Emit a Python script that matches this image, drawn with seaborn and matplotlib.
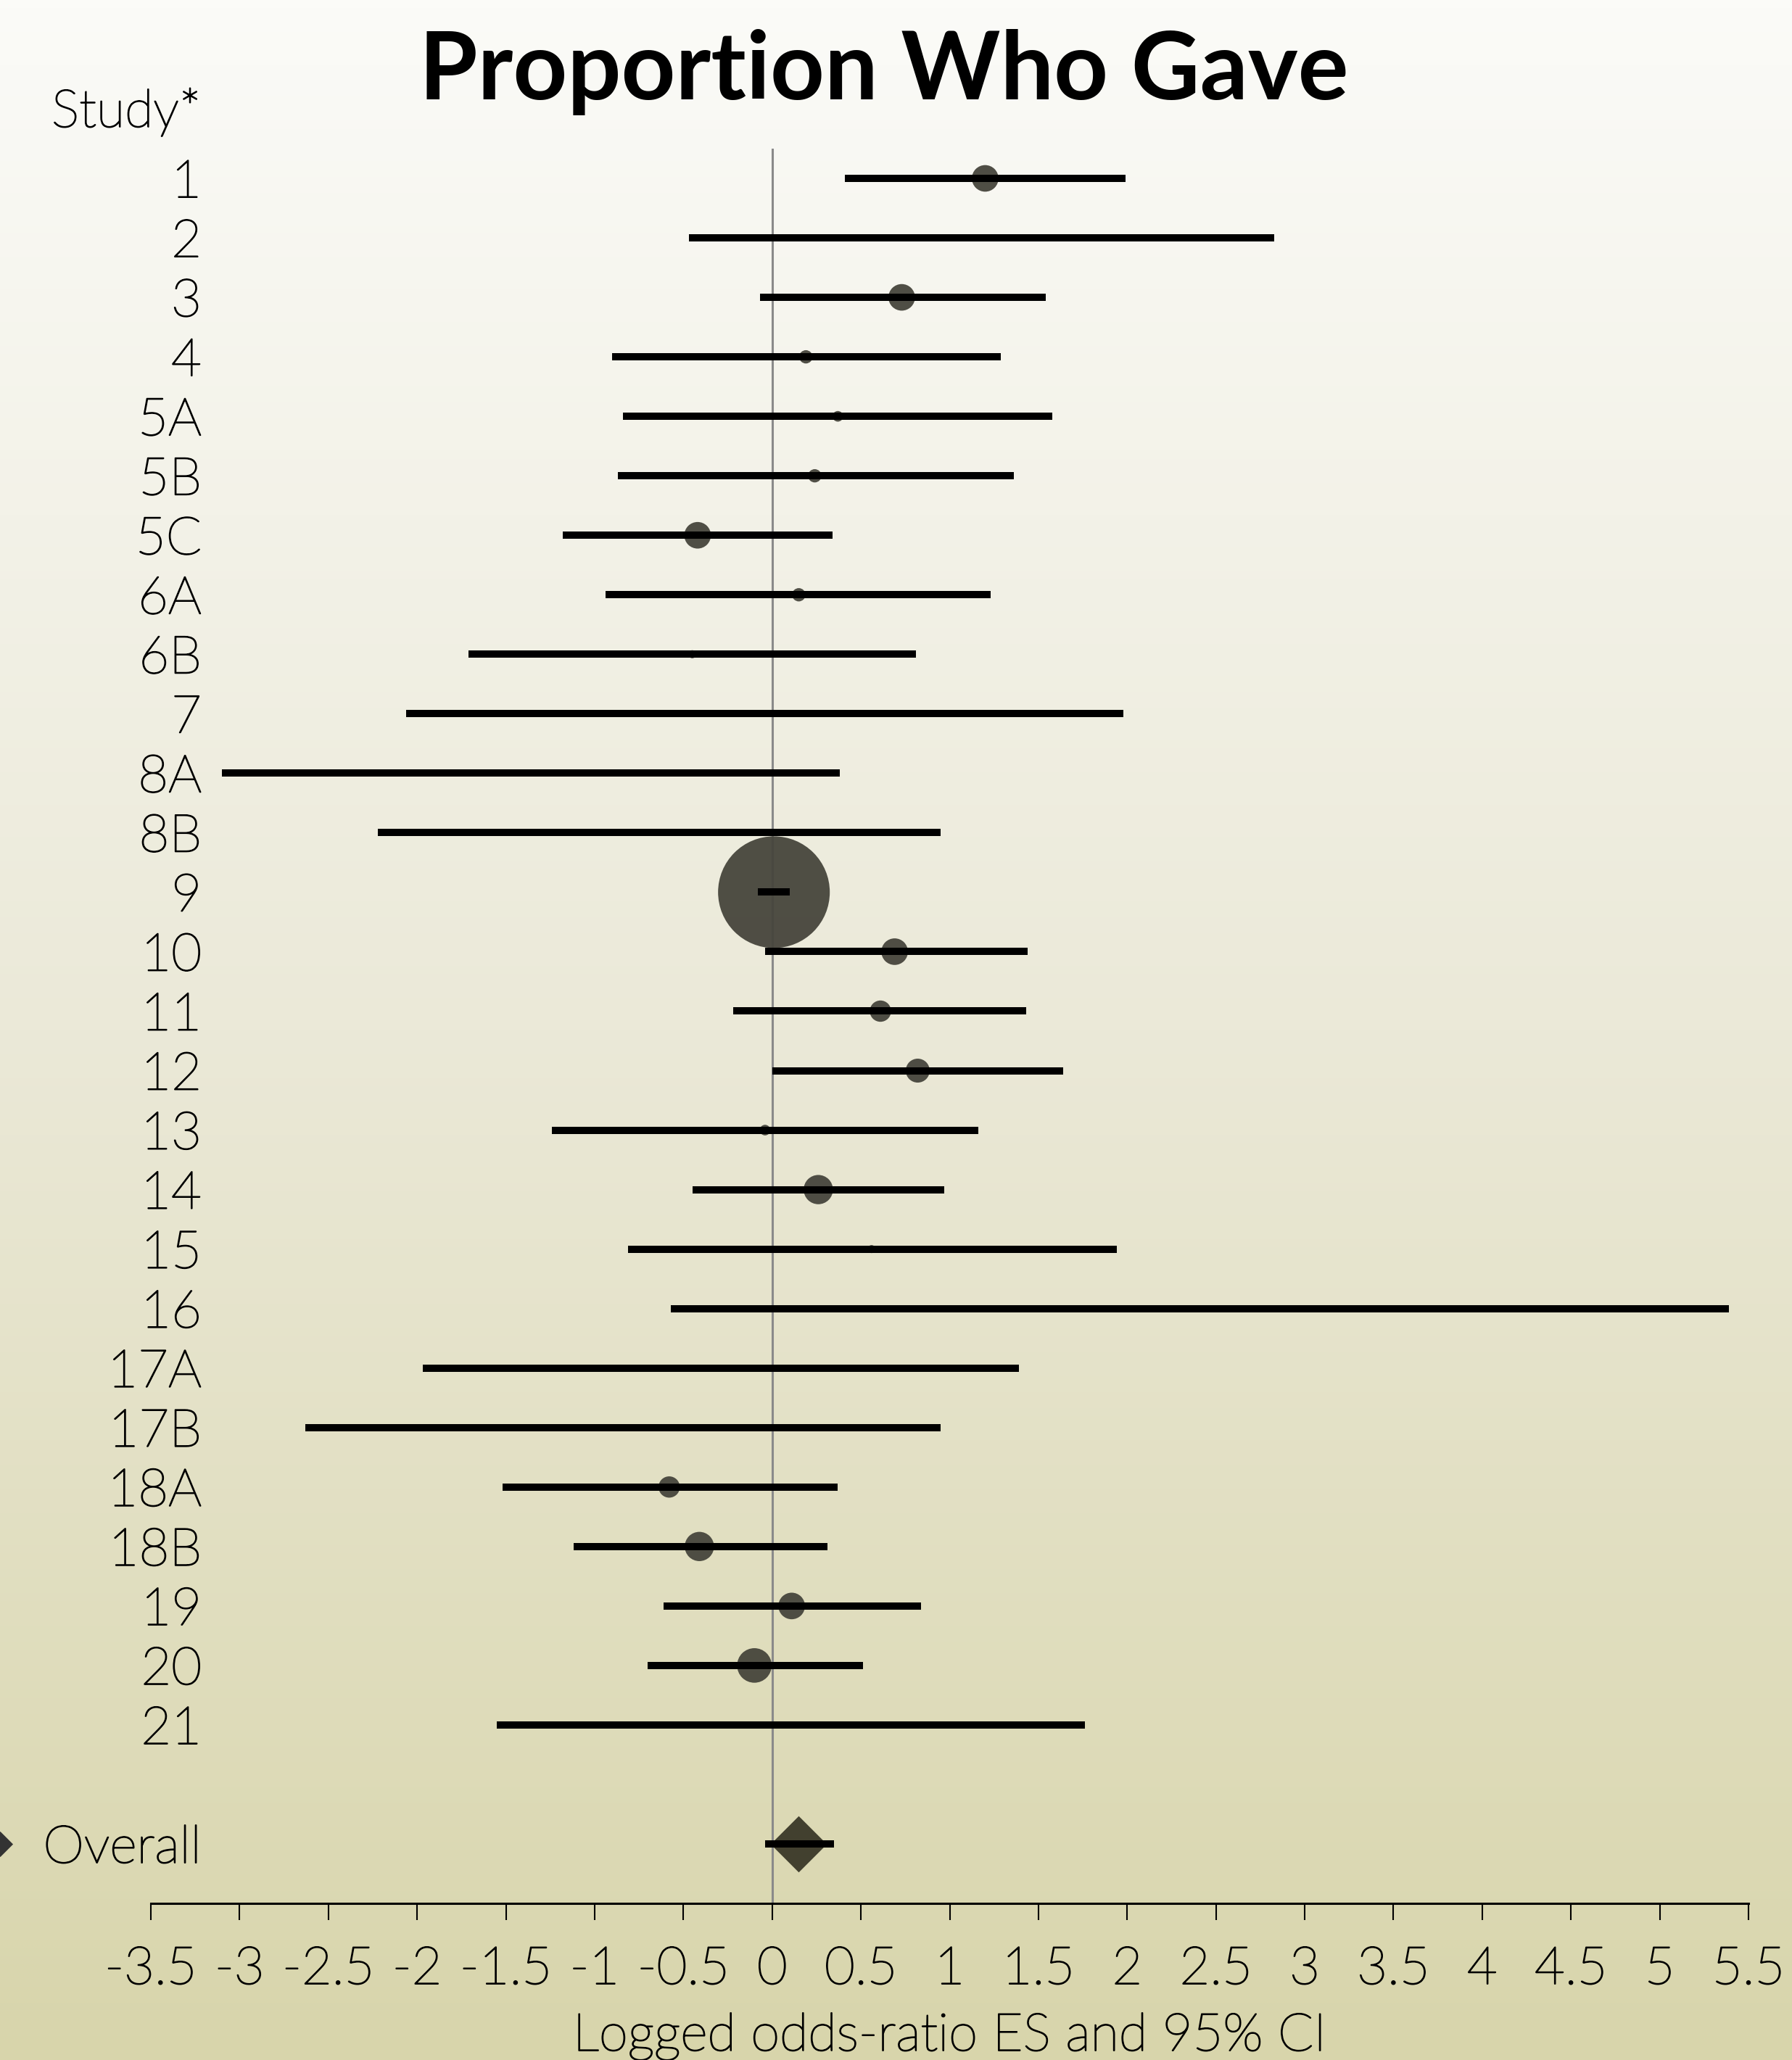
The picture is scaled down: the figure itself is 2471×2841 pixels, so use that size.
import numpy as np
import pandas as pd
import matplotlib
matplotlib.use("Agg")
import matplotlib.pyplot as plt
import matplotlib.transforms as mtransforms
import matplotlib.patheffects as pe
from matplotlib.colors import LinearSegmentedColormap
import seaborn as sns

# --- data ---
studies = ["1", "2", "3", "4", "5A", "5B", "5C", "6A", "6B", "7", "8A", "8B", "9",
           "10", "11", "12", "13", "14", "15", "16", "17A", "17B", "18A", "18B",
           "19", "20", "21"]
effect = [1.20, 1.18, 0.73, 0.19, 0.37, 0.24, -0.42, 0.15, -0.45, -0.04, -1.35, -0.64, 0.01,
          0.69, 0.61, 0.82, -0.04, 0.26, 0.56, 2.41, -0.29, -0.84, -0.58, -0.41,
          0.11, -0.10, 0.10]
ci_low = [0.41, -0.47, -0.07, -0.90, -0.84, -0.87, -1.18, -0.94, -1.71, -2.06, -3.10, -2.22, -0.08,
          -0.04, -0.22, 0.00, -1.24, -0.45, -0.81, -0.57, -1.97, -2.63, -1.52, -1.12,
          -0.61, -0.70, -1.55]
ci_high = [1.99, 2.83, 1.54, 1.29, 1.58, 1.36, 0.34, 1.23, 0.81, 1.98, 0.38, 0.95, 0.10,
           1.44, 1.43, 1.64, 1.16, 0.97, 1.94, 5.39, 1.39, 0.95, 0.37, 0.31,
           0.84, 0.51, 1.76]
weight_pct = [3.32, 0.01, 3.32, 0.83, 0.53, 0.83, 3.32, 0.83, 0.30, 0.0, 0.01, 0.01, 58.6,
              3.32, 2.13, 2.69, 0.53, 4.02, 0.30, 0.0, 0.01, 0.0, 2.13, 4.02,
              3.32, 5.61, 0.01]

overall_es = 0.15
overall_low = -0.04
overall_high = 0.35

xticks = np.arange(-3.5, 5.51, 0.5)
xtick_labels = ["-3.5", "-3", "-2.5", "-2", "-1.5", "-1", "-0.5", "0", "0.5", "1", "1.5",
                "2", "2.5", "3", "3.5", "4", "4.5", "5", "5.5"]

df = pd.DataFrame({"study": studies, "es": effect, "lo": ci_low, "hi": ci_high,
                   "w": weight_pct})
df["pos"] = np.arange(len(df))
overall_pos = len(df) + 1

sns.set_theme(style="white")
plt.rcParams["font.family"] = ["Lato", "DejaVu Sans"]
plt.rcParams["text.color"] = "black"
plt.rcParams["xtick.color"] = "black"

# thin Lato with a slight stroke, to get the light weight of the original
LIGHT = 200
FS = 52
THICKEN = [pe.withStroke(linewidth=1.3, foreground="black")]

W, H = 2471, 2841
fig = plt.figure(figsize=(W / 100, H / 100), dpi=100)

# background gradient (near-white at top to khaki at bottom)
bg = fig.add_axes([0, 0, 1, 1], zorder=-10)
grad = np.linspace(0, 1, 256).reshape(-1, 1)
cmap = LinearSegmentedColormap.from_list("bg", ["#fbfbf8", "#ebe9d8", "#d8d5ab"])
bg.imshow(grad, aspect="auto", cmap=cmap, extent=[0, 1, 0, 1], origin="upper")
bg.set_axis_off()

ax_left, ax_right = 208 / W, 2411 / W
ax_top, ax_bottom = 1 - 205 / H, 1 - 2625 / H
ax = fig.add_axes([ax_left, ax_bottom, ax_right - ax_left, ax_top - ax_bottom])
ax.set_facecolor("none")

ax.axvline(0, color="#8a8a8a", lw=2.2, zorder=1)

sns.scatterplot(data=df, x="es", y="pos", size="w", sizes=(0, 12300), size_norm=(0, 58.6),
                color="#46453c", alpha=0.95, linewidth=0, legend=False, ax=ax, zorder=2)

ax.hlines(df["pos"], df["lo"], df["hi"], color="black", lw=7.2, zorder=3)

# overall effect
ax.scatter([overall_es], [overall_pos], marker="D", s=1560, color="#42402f",
           linewidth=0, zorder=2)
ax.hlines([overall_pos], [overall_low], [overall_high], color="black", lw=7.2, zorder=3)

ax.set_xlim(-3.5, 5.5)
ax.set_ylim(29, -0.5)
ax.set_xticks(xticks)
ax.set_xticklabels(xtick_labels, fontsize=FS, fontweight=LIGHT, color="black")
for lab in ax.get_xticklabels():
    lab.set_path_effects(THICKEN)
ax.set_yticks([])
ax.tick_params(axis="x", direction="out", length=16.5, width=1.5, color="black",
               pad=26, bottom=True)
for side in ["left", "right", "top"]:
    ax.spines[side].set_visible(False)
ax.spines["bottom"].set_color("black")
ax.spines["bottom"].set_linewidth(2.2)
ax.set_xlabel("")
ax.set_ylabel("")

# study labels, right aligned in the left margin
trans = mtransforms.blended_transform_factory(fig.transFigure, ax.transData)
label_x = 278 / W
for name, p in zip(df["study"], df["pos"]):
    ax.text(label_x, p + 0.08, name, transform=trans, ha="right", va="center",
            fontsize=FS, fontweight=LIGHT, color="black", path_effects=THICKEN)
ax.text(label_x, overall_pos + 0.08, "Overall", transform=trans, ha="right", va="center",
        fontsize=FS, fontweight=LIGHT, color="black", path_effects=THICKEN)
ax.scatter([0], [overall_pos], marker="D", s=320, color="#333333", transform=trans,
           clip_on=False, linewidth=0)

fig.text(71 / W, 1 - 175 / H, "Study*", ha="left", va="baseline", fontsize=FS,
         fontweight=LIGHT, color="black", path_effects=THICKEN)
fig.text(0.4934, 1 - 137 / H, "Proportion Who Gave", ha="center", va="baseline",
         fontsize=94, fontweight="bold", color="black")
fig.text((ax_left + ax_right) / 2, 1 - 2828 / H, "Logged odds-ratio ES and 95% CI",
         ha="center", va="baseline", fontsize=FS, fontweight=LIGHT, color="black",
         path_effects=THICKEN)

fig.savefig("out.png", dpi=100)
